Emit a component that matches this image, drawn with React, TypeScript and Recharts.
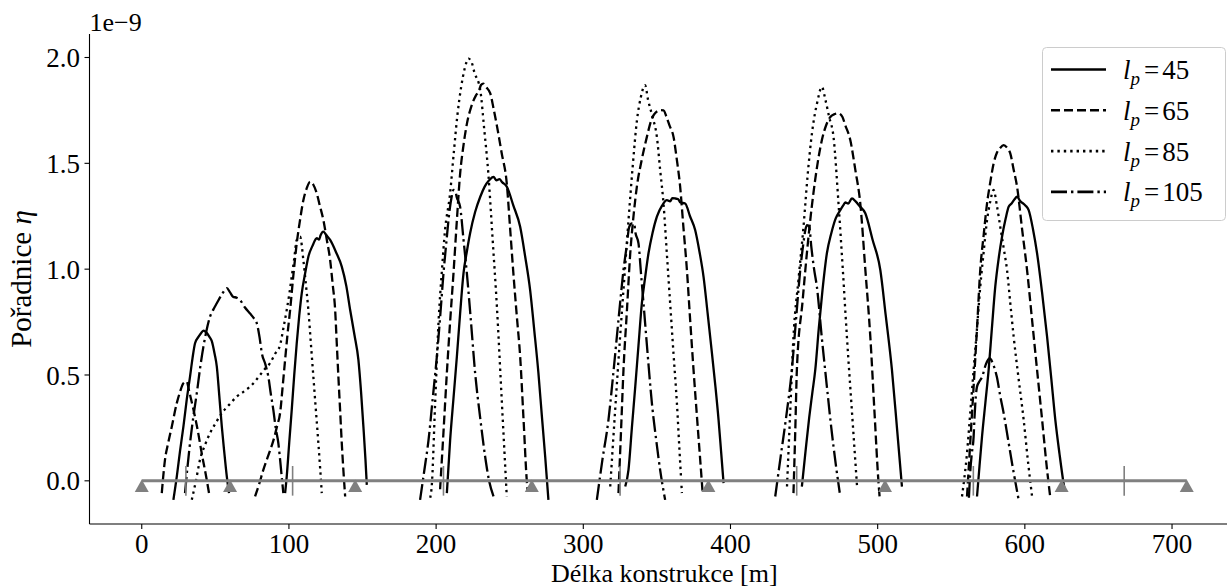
import { ComposedChart, Line, XAxis, YAxis, ReferenceLine } from "recharts";

type Pt = [number, number] | null;

// influence line ordinates (units of 1e-9), null = break between humps
const LP45: Pt[] = [
  [21.5, -0.09], [23.8, 0.02], [26, 0.14], [28.3, 0.256], [30.5, 0.38], [32.8, 0.492], [34.5, 0.58], [36.2, 0.65],
  [38.5, 0.68], [40, 0.695], [41.9, 0.71], [44, 0.7], [46, 0.68], [47.6, 0.66], [49.5, 0.6], [51, 0.54],
  [52.7, 0.4], [54.4, 0.256], [56, 0.14], [57.8, 0.02], [59.3, -0.058],
  null,
  [97.4, -0.058], [98.5, 0.02], [100.2, 0.18], [101.9, 0.335], [103.6, 0.5], [105.3, 0.65], [107, 0.78], [108.7, 0.886],
  [111, 0.98], [113.2, 1.059], [116, 1.11], [118.9, 1.146], [120.5, 1.14], [121.5, 1.16], [123.4, 1.177], [125.5, 1.16],
  [128, 1.138], [132, 1.08], [135.9, 1.012], [139, 0.92], [141.6, 0.807], [144.5, 0.69], [147.2, 0.571], [149, 0.42],
  [150.6, 0.256], [152, 0.1], [152.9, -0.019],
  null,
  [207.3, -0.058], [209.5, 0.19], [211.8, 0.39], [214.1, 0.587], [216.3, 0.79], [218.6, 0.98], [220.8, 1.08], [223.1, 1.17],
  [226.5, 1.27], [230, 1.342], [233, 1.39], [236, 1.42], [239, 1.436], [241, 1.42], [243, 1.425], [245, 1.41],
  [248, 1.39], [252.5, 1.3], [257.1, 1.2], [260.5, 1.06], [263.9, 0.9], [266.7, 0.71], [269.5, 0.51], [271.8, 0.31],
  [274.1, 0.115], [276.3, -0.09],
  null,
  [328.5, -0.027], [330.7, 0.052], [333, 0.25], [335.3, 0.445], [337.5, 0.64], [339.8, 0.839], [342, 0.96], [344.3, 1.075],
  [347, 1.17], [350, 1.248], [353.5, 1.3], [356.8, 1.326], [359, 1.32], [360.5, 1.335], [362.4, 1.334], [364.5, 1.33],
  [366, 1.315], [369.2, 1.31], [372.5, 1.25], [376, 1.185], [379, 1.08], [381.7, 0.964], [384.5, 0.79], [387.4, 0.603],
  [389.7, 0.45], [391.9, 0.288], [393.6, 0.14], [395.3, -0.011],
  null,
  [448.5, -0.027], [451, 0.14], [453.5, 0.3], [455.5, 0.41], [457.6, 0.524], [460, 0.72], [462.5, 0.9], [465.5, 1.075],
  [468.5, 1.17], [471.5, 1.24], [474.6, 1.279], [476.5, 1.3], [478, 1.315], [480, 1.31], [482.5, 1.334], [485, 1.32],
  [487.5, 1.3], [491.6, 1.264], [496.5, 1.14], [501.8, 0.996], [505.5, 0.78], [509.7, 0.524], [513, 0.26], [516.5, -0.027],
  null,
  [567.5, -0.074], [569.2, 0.07], [570.9, 0.209], [573.2, 0.37], [575.4, 0.524], [577.6, 0.72], [579.9, 0.917], [582.2, 1.05],
  [584.5, 1.153], [587, 1.24], [589, 1.295], [591, 1.31], [593, 1.33], [594.7, 1.342], [597, 1.32], [599, 1.31],
  [600.5, 1.3], [602.6, 1.279], [605.5, 1.19], [608.3, 1.075], [611.7, 0.89], [615.1, 0.681], [618, 0.48], [620.7, 0.288],
  [623.5, 0.13], [626.3, -0.011], [627, -0.04],
];

const LP65: Pt[] = [
  [13.6, -0.058], [15.8, 0.1], [18, 0.18], [20.4, 0.256], [23.8, 0.367], [26, 0.42], [28.3, 0.461], [30.6, 0.469],
  [32, 0.43], [35, 0.34], [38, 0.24], [41, 0.12], [43.5, 0.03], [46, -0.07],
  null,
  [77, -0.074], [80, -0.01], [82.6, 0.052], [86, 0.12], [89.4, 0.19], [92, 0.26], [94, 0.32], [95.8, 0.45],
  [97.4, 0.571], [99, 0.69], [100.8, 0.807], [103, 0.97], [105.3, 1.122], [107.5, 1.23], [109.8, 1.326], [112, 1.38],
  [114.4, 1.413], [116.5, 1.4], [118.9, 1.358], [121, 1.3], [123.4, 1.232], [125.7, 1.14], [128, 1.043], [129.7, 0.93],
  [131.4, 0.807], [132.5, 0.65], [133.6, 0.492], [134.8, 0.33], [135.9, 0.178], [137, 0.05], [138.2, -0.074],
  null,
  [202.7, -0.04], [205, 0.23], [207.3, 0.51], [209.5, 0.75], [211.8, 0.98], [214, 1.22], [216.3, 1.45], [218.5, 1.58],
  [221, 1.69], [224, 1.77], [227, 1.82], [229, 1.84], [230.5, 1.87], [232, 1.877], [234, 1.86], [236.8, 1.83],
  [239, 1.76], [241.5, 1.67], [244.5, 1.55], [248, 1.405], [250.3, 1.19], [252.5, 0.98], [254.8, 0.78], [257.1, 0.587],
  [259.4, 0.29], [261.7, -0.01], [262.2, -0.05],
  null,
  [323.9, -0.058], [325.6, 0.23], [327.3, 0.524], [329.6, 0.8], [331.9, 1.075], [334.1, 1.25], [336.4, 1.39], [339.8, 1.52],
  [343.2, 1.625], [346, 1.7], [348, 1.73], [350, 1.745], [352.3, 1.751], [354.5, 1.75], [356.5, 1.72], [358.5, 1.68],
  [361.3, 1.625], [363.5, 1.52], [365.8, 1.39], [368, 1.2], [370.4, 0.996], [372.6, 0.76], [374.9, 0.524], [377.8, 0.25],
  [380.6, -0.011], [381, -0.05],
  null,
  [442.8, -0.058], [444, 0.23], [445.1, 0.524], [449, 0.85], [453, 1.153], [457.5, 1.42], [462.1, 1.61], [465, 1.68],
  [468, 1.72], [470, 1.73], [473.4, 1.736], [476, 1.72], [478, 1.68], [481.4, 1.61], [484.8, 1.47], [488.2, 1.31],
  [491.6, 1.0], [495, 0.681], [497.8, 0.33], [500.6, -0.011], [501.5, -0.09],
  null,
  [560.7, -0.074], [561.8, 0.052], [563.5, 0.25], [565.2, 0.445], [567.5, 0.72], [569.7, 0.996], [572, 1.16], [574.3, 1.31],
  [576.5, 1.41], [578.8, 1.5], [581, 1.55], [583, 1.57], [585.6, 1.586], [587.8, 1.575], [590.1, 1.547], [592.4, 1.47],
  [594.7, 1.39], [598.1, 1.19], [601.5, 0.996], [604.9, 0.76], [608.3, 0.524], [611.7, 0.29], [615.1, 0.052], [617.3, -0.08],
];

const LP85: Pt[] = [
  [34, -0.09], [36.8, 0.0], [39.6, 0.1], [43, 0.17], [46.4, 0.225], [50.4, 0.275], [54.4, 0.32], [59.5, 0.36],
  [64.6, 0.398], [69, 0.42], [73.6, 0.445], [77, 0.47], [80.4, 0.5], [83.8, 0.53], [87.2, 0.556], [90.6, 0.6],
  [94, 0.642], [96.2, 0.72], [98.5, 0.807], [100.2, 0.88], [101.9, 0.964], [103.6, 1.05], [105.3, 1.138], [107.6, 1.153],
  [109.8, 1.043], [111.5, 0.93], [113.2, 0.807], [114.9, 0.65], [116.6, 0.492], [118.3, 0.335], [120, 0.178], [121.2, 0.06],
  [122.3, -0.058],
  null,
  [196, -0.08], [197, -0.027], [199.3, 0.36], [201.6, 0.744], [204, 1.0], [206, 1.18], [209.5, 1.358], [212, 1.55],
  [214.5, 1.73], [217, 1.86], [219.5, 1.95], [222, 1.995], [224, 1.98], [226, 1.93], [230, 1.846], [232.7, 1.66],
  [235.5, 1.45], [238.4, 1.14], [241.3, 0.823], [244.6, 0.38], [248, -0.074],
  null,
  [318.3, -0.027], [321.6, 0.33], [325, 0.68], [327.9, 0.96], [330.7, 1.23], [333.5, 1.48], [336.4, 1.7], [339, 1.81],
  [342, 1.869], [344, 1.8], [347, 1.72], [350, 1.625], [352.2, 1.47], [354.5, 1.31], [356.8, 1.07], [359, 0.84],
  [361.3, 0.6], [363.6, 0.367], [365.3, 0.15], [367, -0.058],
  null,
  [438.4, -0.027], [440.6, 0.33], [442.8, 0.681], [446.2, 0.95], [449.6, 1.2], [452.5, 1.45], [455.5, 1.65], [459, 1.79],
  [462.1, 1.861], [464.5, 1.8], [467, 1.72], [470, 1.625], [473.4, 1.31], [476.3, 1.0], [479.1, 0.681], [482.5, 0.33],
  [486, -0.027],
  null,
  [557.3, -0.074], [560.7, 0.131], [563, 0.33], [565.2, 0.524], [567.5, 0.72], [569.7, 0.917], [572, 1.08], [574.3, 1.23],
  [576.5, 1.32], [578.8, 1.374], [581, 1.3], [583.3, 1.2], [585.6, 1.1], [587.9, 0.996], [590.1, 0.84], [592.4, 0.681],
  [595.8, 0.48], [599.2, 0.288], [602, 0.1], [604.9, -0.074],
];

const LP105: Pt[] = [
  [29.4, -0.058], [31, 0.06], [32.8, 0.178], [35, 0.3], [37.4, 0.414], [39.6, 0.53], [41.9, 0.634], [44, 0.71],
  [46.4, 0.776], [48.7, 0.81], [51, 0.839], [54.4, 0.88], [57.8, 0.91], [60, 0.89], [62, 0.87], [64.5, 0.865],
  [66.8, 0.854], [70, 0.82], [73.6, 0.79], [76, 0.77], [78.2, 0.744], [80, 0.68], [81.6, 0.603], [84, 0.55],
  [86, 0.492], [87.7, 0.41], [89.4, 0.335], [91, 0.25], [92.8, 0.178], [94, 0.1], [95.1, 0.02], [96.2, -0.058],
  null,
  [189.1, -0.09], [192, 0.05], [194.8, 0.19], [197.7, 0.39], [200.5, 0.587], [202.8, 0.78], [205, 0.98], [207, 1.13],
  [209, 1.27], [210.5, 1.34], [211.8, 1.374], [213, 1.37], [214, 1.34], [216.3, 1.295], [218.6, 1.14], [220.9, 0.98],
  [223.7, 0.75], [226.5, 0.51], [229.9, 0.3], [233.3, 0.115], [236, 0.0], [239, -0.074],
  null,
  [309.2, -0.09], [313, 0.1], [317.1, 0.288], [320, 0.48], [322.8, 0.681], [325, 0.84], [327.3, 0.996], [329.5, 1.11],
  [331.2, 1.2], [333, 1.216], [334.5, 1.215], [335.5, 1.17], [337.5, 1.122], [339.2, 0.98], [340.9, 0.839], [343.7, 0.6],
  [346.6, 0.367], [349.4, 0.2], [352.2, 0.052], [355.6, -0.09],
  null,
  [430.4, -0.074], [434, 0.11], [437.8, 0.3], [441.7, 0.524], [444.5, 0.76], [447.4, 0.996], [449.5, 1.12], [451, 1.19],
  [452, 1.208], [453.5, 1.2], [455, 1.1], [456.8, 1.0], [458.7, 0.917], [462, 0.68], [465.5, 0.445], [468.5, 0.25],
  [471.5, 0.08], [474.6, -0.074],
  null,
  [562, -0.08], [563, 0.052], [564, 0.13], [565.2, 0.209], [565.8, 0.3], [567.5, 0.445], [569.2, 0.47], [570.9, 0.49],
  [573.5, 0.55], [576, 0.579], [578.5, 0.55], [581, 0.49], [583.3, 0.4], [585.6, 0.32], [588.5, 0.2], [591.3, 0.083],
  [595.8, -0.09],
];

const SUPPORTS = [0, 60, 145, 265, 385, 505, 625, 710];
const HINGES = [30, 102.5, 205, 325, 445, 565, 667.5];
const X_TICKS = [0, 100, 200, 300, 400, 500, 600, 700];
const Y_TICKS = [0, 0.5, 1.0, 1.5, 2.0];
const SUPPORT_Y = -0.025;

const FONT = "'Liberation Serif', 'Times New Roman', serif";
const GRAY = "#808080";
const LW = 2.3;

const SERIES = [
  { key: "45", pts: LP45, dash: undefined as string | undefined },
  { key: "65", pts: LP65, dash: "9 4" },
  { key: "85", pts: LP85, dash: "2.4 4" },
  { key: "105", pts: LP105, dash: "16 4 2.4 4" },
];

function toRows(pts: Pt[]) {
  let lastX = 0;
  return pts.map((p) => {
    if (p === null) return { x: lastX, y: null };
    lastX = p[0];
    return { x: p[0], y: p[1] };
  });
}

const baseLine = [{ x: SUPPORTS[0], y: 0 }, { x: SUPPORTS[SUPPORTS.length - 1], y: 0 }];
const supportRows = SUPPORTS.map((x) => ({ x, y: SUPPORT_Y }));

function Triangle(props: any) {
  const { cx, cy, index } = props;
  if (cx == null || cy == null) return <g key={index} />;
  return (
    <polygon key={index} points={`${cx - 7},${cy + 6} ${cx + 7},${cy + 6} ${cx},${cy - 6.5}`} fill={GRAY} stroke="none" />
  );
}

function LegendBox() {
  return (
    <svg width={184} height={174} style={{ display: "block" }}>
      <rect x={0.5} y={0.5} width={183} height={173} rx={4} fill="#fff" fillOpacity={0.8} stroke="#cccccc" />
      {SERIES.map((s, i) => {
        const cy = 22.5 + i * 40.8;
        return (
          <g key={s.key}>
            <line x1={9} x2={64} y1={cy} y2={cy} stroke="#000" strokeWidth={2.6} strokeDasharray={s.dash} />
            <text x={81} y={cy + 9.5} fontFamily={FONT} fontSize={27} fill="#000">
              <tspan fontStyle="italic">l</tspan>
              <tspan fontStyle="italic" fontSize={19} dy={6}>p</tspan>
              <tspan dy={-6} dx={4}>=</tspan>
              <tspan dx={3}>{s.key}</tspan>
            </text>
          </g>
        );
      })}
    </svg>
  );
}

export default function App() {
  const tick = { fill: "#000", fontSize: 27, fontFamily: FONT };
  return (
    <div style={{ width: 1227, height: 588, overflow: "hidden", position: "relative", background: "#fff" }}>
      <style>{`body{margin:0}`}</style>
      <ComposedChart width={1239} height={588} margin={{ top: 34, right: 0, bottom: 0, left: 0 }}>
        <XAxis
          xAxisId="top"
          orientation="top"
          type="number"
          dataKey="x"
          domain={[-35.5, 745.5]}
          allowDataOverflow
          height={0}
          tick={false}
          tickLine={false}
          axisLine={{ stroke: "#000", strokeWidth: 1.1 }}
        />
        <XAxis
          type="number"
          dataKey="x"
          domain={[-35.5, 745.5]}
          allowDataOverflow
          ticks={X_TICKS}
          height={64}
          tickSize={5}
          tickMargin={5}
          tick={tick}
          tickLine={{ stroke: "#000", strokeWidth: 1.1 }}
          axisLine={{ stroke: "#000", strokeWidth: 1.1 }}
          label={(p: any) => {
            const vb = p.viewBox;
            return (
              <text x={vb.x + vb.width / 2} y={vb.y + 58} textAnchor="middle" fontFamily={FONT} fontSize={26} fill="#000">
                Délka konstrukce [m]
              </text>
            );
          }}
        />
        <YAxis
          type="number"
          domain={[-0.204, 2.111]}
          allowDataOverflow
          ticks={Y_TICKS}
          width={89.5}
          tickSize={5}
          tickMargin={4.5}
          tick={tick}
          tickFormatter={(v: number) => v.toFixed(1)}
          tickLine={{ stroke: "#000", strokeWidth: 1.1 }}
          axisLine={{ stroke: "#000", strokeWidth: 1.1 }}
          label={(p: any) => {
            const vb = p.viewBox;
            const cy = vb.y + vb.height / 2;
            return (
              <g>
                <text x={31} y={cy} transform={`rotate(-90, 31, ${cy})`} textAnchor="middle" fontFamily={FONT} fontSize={29} fill="#000">
                  Pořadnice <tspan fontStyle="italic">η</tspan>
                </text>
                <text x={vb.x + vb.width} y={vb.y - 3} textAnchor="start" fontFamily={FONT} fontSize={26} fill="#000">
                  1e−9
                </text>
              </g>
            );
          }}
        />
        {SERIES.map((s) => (
          <Line
            key={s.key}
            data={toRows(s.pts)}
            dataKey="y"
            type="monotone"
            stroke="#000"
            strokeWidth={LW}
            strokeDasharray={s.dash}
            dot={false}
            activeDot={false}
            connectNulls={false}
            isAnimationActive={false}
          />
        ))}
        <Line
          data={baseLine}
          dataKey="y"
          type="linear"
          stroke={GRAY}
          strokeWidth={3}
          dot={false}
          activeDot={false}
          isAnimationActive={false}
        />
        {HINGES.map((h) => (
          <ReferenceLine
            key={h}
            segment={[{ x: h, y: -0.07 }, { x: h, y: 0.07 }]}
            stroke={GRAY}
            strokeWidth={1.6}
          />
        ))}
        <Line
          data={supportRows}
          dataKey="y"
          stroke="none"
          strokeWidth={0}
          dot={<Triangle />}
          activeDot={false}
          isAnimationActive={false}
        />
      </ComposedChart>
      <div style={{ position: "absolute", top: 47, left: 1042 }}>
        <LegendBox />
      </div>
    </div>
  );
}
